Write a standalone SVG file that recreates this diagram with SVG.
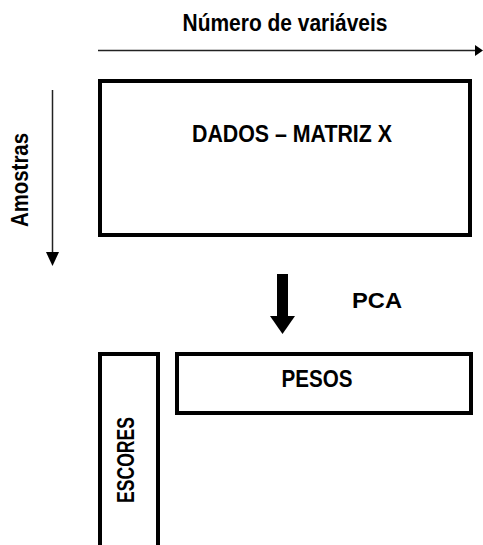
<svg xmlns="http://www.w3.org/2000/svg" width="483" height="545" viewBox="0 0 483 545">
<style>
.t{font-family:"Liberation Sans",Arial,sans-serif;font-weight:bold;font-size:21px;fill:#000;}
.box{fill:#fff;stroke:#000;stroke-width:4;}
.ax{stroke:#222;stroke-width:1.5;fill:none;}
</style>
<rect width="483" height="545" fill="#fff"/>
<g id="connectors">
<line class="ax" x1="98" y1="50.5" x2="476" y2="50.5"/>
<polygon points="475,45 475,56 483,50.5" fill="#000"/>
<line class="ax" x1="52.5" y1="90" x2="52.5" y2="253"/>
<polygon points="46,252 59,252 52.5,266" fill="#000"/>
<rect x="277" y="274" width="11" height="43" fill="#000"/>
<polygon points="270,316 295,316 282.5,334" fill="#000"/>
</g>
<g id="label-variaveis"><text class="t" transform="translate(285,31) scale(1,1.12)" text-anchor="middle" textLength="205" lengthAdjust="spacingAndGlyphs">Número de variáveis</text></g>
<g id="label-amostras"><text class="t" transform="translate(28,180) scale(1.12,1) rotate(-90)" text-anchor="middle" textLength="94" lengthAdjust="spacingAndGlyphs">Amostras</text></g>
<g id="label-pca"><text class="t" transform="translate(352,308) scale(1,1.08)" font-size="24" textLength="50" lengthAdjust="spacingAndGlyphs">PCA</text></g>
<g id="node-dados">
<rect class="box" x="100" y="81" width="370" height="154"/>
<text class="t" transform="translate(292,142) scale(1,1.15)" text-anchor="middle" textLength="200" lengthAdjust="spacingAndGlyphs">DADOS – MATRIZ X</text>
</g>
<g id="node-pesos">
<rect class="box" x="177" y="354" width="294" height="59"/>
<text class="t" transform="translate(317,387) scale(1,1.12)" text-anchor="middle" textLength="71" lengthAdjust="spacingAndGlyphs">PESOS</text>
</g>
<g id="node-escores">
<rect class="box" x="100" y="354" width="58" height="200"/>
<text class="t" transform="translate(134,460) scale(1.12,1) rotate(-90)" text-anchor="middle" textLength="86" lengthAdjust="spacingAndGlyphs">ESCORES</text>
</g>
</svg>
